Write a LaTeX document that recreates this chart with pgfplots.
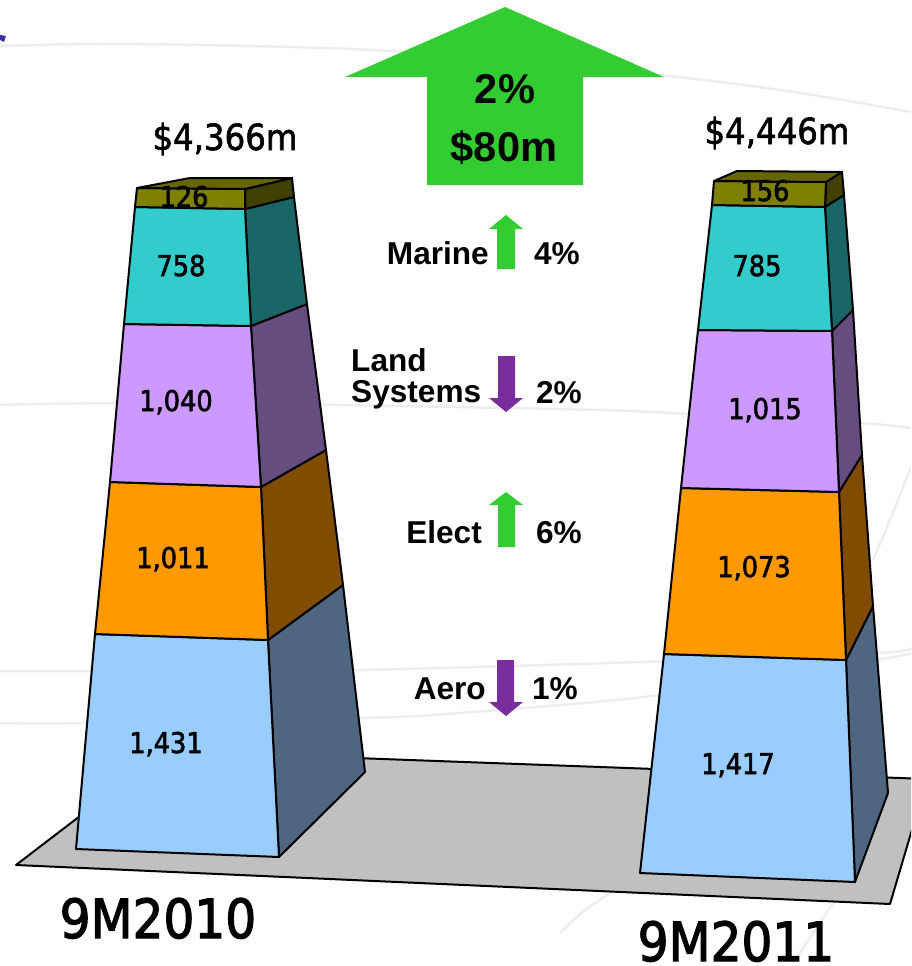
\documentclass[border=0pt]{standalone}
\usepackage{pgfplots}
\pgfplotsset{compat=1.18}
\usepackage{fontspec}
\setmainfont[FakeStretch=0.9]{DejaVu Sans}
\newfontfamily\arb[BoldFont={Liberation Sans Bold}]{Liberation Sans}
\definecolor{grn}{HTML}{33CC33}
\definecolor{prp}{HTML}{7A2E9E}
\definecolor{ol}{HTML}{808000}
\definecolor{olS}{HTML}{404000}
\definecolor{olT}{HTML}{666600}
\definecolor{te}{HTML}{33CCCC}
\definecolor{teS}{HTML}{1A6666}
\definecolor{li}{HTML}{CC99FF}
\definecolor{liS}{HTML}{664D80}
\definecolor{or}{HTML}{FF9900}
\definecolor{orS}{HTML}{804D00}
\definecolor{bl}{HTML}{99CCFF}
\definecolor{blS}{HTML}{4F6680}
\definecolor{fl}{HTML}{C0C0C0}
\definecolor{sw}{HTML}{EDEDED}
\definecolor{bm}{HTML}{3333A0}
\pgfplotsset{
  edge/.style={draw=black,line width=2pt,line join=round},
  swoosh/.style={draw=sw,line width=2.5pt,smooth},
  flat/.style={draw=none},
}
\tikzset{
  heavy/.style={execute at begin node={\special{pdf:code 2 Tr #1 w 0 0 0 RG}},
                execute at end node={\special{pdf:code 0 Tr}}},
  val/.style={anchor=base,inner sep=0pt,heavy=0.6,font=\fontsize{28.5}{30}\selectfont},
  tot/.style={anchor=base,inner sep=0pt,heavy=0.6,font=\fontsize{36}{38}\selectfont},
  yr/.style={anchor=base,inner sep=0pt,heavy=1.2,font=\fontsize{54}{56}\selectfont},
  bigt/.style={anchor=base,inner sep=0pt,font=\arb\bfseries\fontsize{41.6}{44}\selectfont},
  lab/.style={inner sep=0pt,font=\arb\bfseries\fontsize{31.6}{34}\selectfont},
}
\begin{document}
\begin{tikzpicture}
\useasboundingbox (0,0) rectangle (911pt,966pt);
\clip (0,0) rectangle (911pt,966pt);
\begin{axis}[
  at={(0,0)},anchor=south west,scale only axis,
  width=911pt,height=966pt,
  xmin=0,xmax=911,ymin=0,ymax=966,y dir=reverse,
  hide axis,no markers,
]
% background swooshes
\addplot[swoosh] coordinates {(0,46) (100,44) (250,46) (405,52) (668,76) (800,93) (911,112)};
\addplot[swoosh] coordinates {(0,405) (117,403) (340,405) (600,410) (690,414) (860,423) (911,428)};
\addplot[swoosh] coordinates {(0,671) (180,671) (360,670) (640,662) (880,653) (911,647)};
\addplot[swoosh] coordinates {(0,723) (85,723) (360,718) (460,713) (660,695) (888,658) (911,652)};
\addplot[swoosh] coordinates {(560,933) (585,910) (610,893)};
\addplot[swoosh] coordinates {(793,963) (815,930) (833,903)};
\addplot[swoosh] coordinates {(873,560) (890,520) (911,467)};
\addplot[fill=bm,draw=none] coordinates {(0,35) (6,36) (4,42) (0,40)} -- cycle;
% floor
\addplot[edge,fill=fl] coordinates {(16,865) (165,751) (927,779) (890,904)} -- cycle;
% bar 9M2010: side faces
\addplot[edge,fill=blS] coordinates {(279,857) (268,640) (343,585) (365,772)} -- cycle;
\addplot[edge,fill=orS] coordinates {(268,640) (261,487) (326,450) (343,585)} -- cycle;
\addplot[edge,fill=liS] coordinates {(261,487) (251,326) (307,304) (326,450)} -- cycle;
\addplot[edge,fill=teS] coordinates {(251,326) (245,209) (294,197) (307,304)} -- cycle;
\addplot[edge,fill=olS] coordinates {(245,209) (245,189) (292,178) (294,197)} -- cycle;
% bar 9M2010: front faces
\addplot[edge,fill=bl] coordinates {(76,849) (279,857) (268,640) (95,634)} -- cycle;
\addplot[edge,fill=or] coordinates {(95,634) (268,640) (261,487) (110,482)} -- cycle;
\addplot[edge,fill=li] coordinates {(110,482) (261,487) (251,326) (124,324)} -- cycle;
\addplot[edge,fill=te] coordinates {(124,324) (251,326) (245,209) (135,207)} -- cycle;
\addplot[edge,fill=ol] coordinates {(135,207) (245,209) (245,189) (137,188)} -- cycle;
\addplot[edge,fill=olT] coordinates {(137,188) (245,189) (292,178) (190,178)} -- cycle;
% bar 9M2011: side faces
\addplot[edge,fill=blS] coordinates {(855,882) (846,660) (873,606) (888,793)} -- cycle;
\addplot[edge,fill=orS] coordinates {(846,660) (839,492) (862,455) (873,606)} -- cycle;
\addplot[edge,fill=liS] coordinates {(839,492) (832,331) (853,310) (862,455)} -- cycle;
\addplot[edge,fill=teS] coordinates {(832,331) (825,207) (844,195) (853,310)} -- cycle;
\addplot[edge,fill=olS] coordinates {(825,207) (826,182) (842,172) (844,195)} -- cycle;
% bar 9M2011: front faces
\addplot[edge,fill=bl] coordinates {(640,873) (855,882) (846,660) (664,654)} -- cycle;
\addplot[edge,fill=or] coordinates {(664,654) (846,660) (839,492) (681,488)} -- cycle;
\addplot[edge,fill=li] coordinates {(681,488) (839,492) (832,331) (698,330)} -- cycle;
\addplot[edge,fill=te] coordinates {(698,330) (832,331) (825,207) (712,205)} -- cycle;
\addplot[edge,fill=ol] coordinates {(712,205) (825,207) (826,182) (714,181)} -- cycle;
\addplot[edge,fill=olT] coordinates {(714,181) (826,182) (842,172) (737,171)} -- cycle;
% arrows
\addplot[flat,fill=grn] coordinates {(505,7) (664,77) (583,77) (583,185) (427,185) (427,77) (345,77)} -- cycle;
\addplot[flat,fill=grn] coordinates {(506,215) (523,229) (515,229) (515,269) (497,269) (497,229) (489,229)} -- cycle;
\addplot[flat,fill=prp] coordinates {(498,356) (515,356) (515,398) (523,398) (506,412) (489,398) (498,398)} -- cycle;
\addplot[flat,fill=grn] coordinates {(506,492) (523,505) (515,505) (515,547) (498,547) (498,505) (489,505)} -- cycle;
\addplot[flat,fill=prp] coordinates {(497,660) (514,660) (514,702) (523,702) (506,716) (489,702) (497,702)} -- cycle;
% texts
\node[tot] at (axis cs:225,150) {\$4,366m};
\node[tot] at (axis cs:777,144) {\$4,446m};
\node[val] at (axis cs:184,207) {126};
\node[val] at (axis cs:181,276) {758};
\node[val] at (axis cs:176,411) {1,040};
\node[val] at (axis cs:173,568) {1,011};
\node[val] at (axis cs:166,753) {1,431};
\node[val] at (axis cs:765,201) {156};
\node[val] at (axis cs:757,276) {785};
\node[val] at (axis cs:765,419) {1,015};
\node[val] at (axis cs:754,577) {1,073};
\node[val] at (axis cs:738,774) {1,417};
\node[yr] at (axis cs:158,938) {9M2010};
\node[yr] at (axis cs:736,961) {9M2011};
\node[bigt] at (axis cs:505,103) {2\%};
\node[bigt] at (axis cs:504,161) {\$80m};
\node[lab,anchor=base east] at (axis cs:489,264) {Marine};
\node[lab,anchor=base] at (axis cs:557,264) {4\%};
\node[lab,anchor=base west] at (axis cs:351,371) {Land};
\node[lab,anchor=base west] at (axis cs:351,402) {Systems};
\node[lab,anchor=base] at (axis cs:559,403) {2\%};
\node[lab,anchor=base east] at (axis cs:482,543) {Elect};
\node[lab,anchor=base] at (axis cs:559,543) {6\%};
\node[lab,anchor=base east] at (axis cs:486,699) {Aero};
\node[lab,anchor=base] at (axis cs:555,699) {1\%};
\end{axis}
\end{tikzpicture}
\end{document}
